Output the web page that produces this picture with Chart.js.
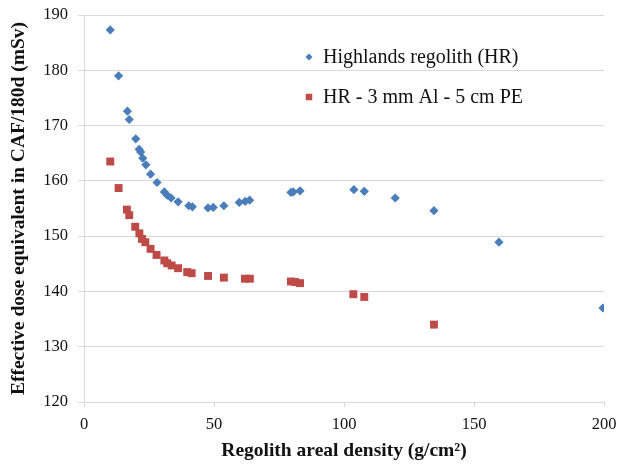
<!DOCTYPE html>
<html>
<head>
<meta charset="utf-8">
<script src="https://cdn.jsdelivr.net/npm/chart.js@4"></script>
<style>
  html, body { margin: 0; padding: 0; background: #fff; }
  #wrap { width: 618px; height: 464px; }
</style>
</head>
<body>
<div id="wrap"><canvas id="chart" width="618" height="464"></canvas></div>
<script>
// Highlands regolith (HR)
const hrDensity = [10.1, 13.3, 16.7, 17.4, 19.9, 21.2, 21.8, 22.6, 23.8, 25.6, 28.1, 30.9, 32.0, 33.5, 36.2,
  40.3, 41.7, 47.7, 49.7, 53.8, 59.7, 62.0, 63.7, 79.6, 80.5, 83.1, 103.8, 107.8, 119.7, 134.6, 159.6, 199.6];
const hrDose = [187.3, 179.0, 172.6, 171.1, 167.6, 165.7, 165.2, 164.1, 162.9, 161.2, 159.7, 158.0, 157.4, 156.9, 156.2,
  155.5, 155.3, 155.1, 155.2, 155.5, 156.1, 156.3, 156.5, 157.9, 158.0, 158.2, 158.4, 158.1, 156.9, 154.6, 148.9, 137.0];

// HR - 3 mm Al - 5 cm PE
const shieldDensity = [10.1, 13.3, 16.5, 17.4, 19.7, 21.3, 22.3, 23.6, 25.6, 27.9, 30.9, 32.0, 33.7, 36.2,
  39.7, 41.4, 47.7, 53.8, 61.9, 63.8, 79.6, 81.2, 83.1, 103.6, 107.8, 134.6];
const shieldDose = [163.5, 158.7, 154.8, 153.8, 151.7, 150.5, 149.5, 148.9, 147.7, 146.6, 145.6, 145.1, 144.7, 144.2,
  143.5, 143.3, 142.8, 142.5, 142.3, 142.3, 141.8, 141.7, 141.5, 139.5, 139.0, 134.0];

const seriesNames = ['Highlands regolith (HR)', 'HR - 3 mm Al - 5 cm PE'];
const xTicks = [0, 50, 100, 150, 200];
const yTicks = [120, 130, 140, 150, 160, 170, 180, 190];

const blue = '#4a7ebb';
const red = '#be4b48';
const serif = "'Liberation Serif', 'Times New Roman', serif";

const toPoints = (xs, ys) => xs.map((x, i) => ({ x: x, y: ys[i] }));

// legend drawn inside the plot, like the original
const insideLegend = {
  id: 'insideLegend',
  afterDraw(chart) {
    const ctx = chart.ctx;
    const rows = [
      { y: 57, style: 'rectRot', r: 3.5, color: blue },
      { y: 97, style: 'rect', r: 4.6, color: red }
    ];
    ctx.save();
    ctx.font = '20px ' + serif;
    ctx.textBaseline = 'middle';
    rows.forEach((row, i) => {
      ctx.fillStyle = row.color;
      Chart.helpers.drawPoint(ctx, { pointStyle: row.style, radius: row.r, borderWidth: 0 }, 309, row.y);
      ctx.fillStyle = '#111';
      ctx.fillText(seriesNames[i], 323, row.y + 1);
    });
    ctx.restore();
  }
};

new Chart(document.getElementById('chart').getContext('2d'), {
  type: 'scatter',
  data: {
    datasets: [
      {
        label: seriesNames[0],
        data: toPoints(hrDensity, hrDose),
        pointStyle: 'rectRot',
        pointRadius: 4.6,
        backgroundColor: blue,
        borderColor: blue,
        borderWidth: 0
      },
      {
        label: seriesNames[1],
        data: toPoints(shieldDensity, shieldDose),
        pointStyle: 'rect',
        pointRadius: 5.6,
        backgroundColor: red,
        borderColor: red,
        borderWidth: 0
      }
    ]
  },
  options: {
    responsive: false,
    animation: false,
    layout: { padding: { top: 15, right: 14, left: 0, bottom: 0 } },
    plugins: {
      legend: { display: false },
      tooltip: { enabled: false }
    },
    scales: {
      x: {
        type: 'linear',
        min: 0,
        max: 200,
        afterBuildTicks: (axis) => { axis.ticks = xTicks.map(v => ({ value: v })); },
        afterFit: (axis) => {
          axis.height = 62;
          axis.paddingLeft = 0;
          axis.paddingRight = 0;
        },
        grid: { drawOnChartArea: false, drawTicks: true, tickLength: 5, color: '#d9d9d9' },
        border: { color: '#d9d9d9' },
        ticks: { color: '#111', font: { family: serif, size: 16.5 }, padding: 8, maxRotation: 0 },
        title: {
          display: true,
          text: 'Regolith areal density (g/cm²)',
          color: '#111',
          font: { family: serif, size: 19.5, weight: 'bold' },
          padding: { top: 0, bottom: 1 }
        }
      },
      y: {
        min: 120,
        max: 190,
        afterBuildTicks: (axis) => { axis.ticks = yTicks.map(v => ({ value: v })); },
        afterFit: (axis) => {
          axis.width = 84;
          axis.paddingTop = 0;
          axis.paddingBottom = 0;
        },
        grid: { color: '#d9d9d9', tickLength: 6 },
        border: { color: '#d9d9d9' },
        ticks: { color: '#111', font: { family: serif, size: 16.5 }, padding: 10 },
        title: {
          display: true,
          text: 'Effective dose equivalent in CAF/180d (mSv)',
          color: '#111',
          font: { family: serif, size: 19.5, weight: 'bold' },
          padding: { top: 7, bottom: 7 }
        }
      }
    }
  },
  plugins: [insideLegend]
});
</script>
</body>
</html>
